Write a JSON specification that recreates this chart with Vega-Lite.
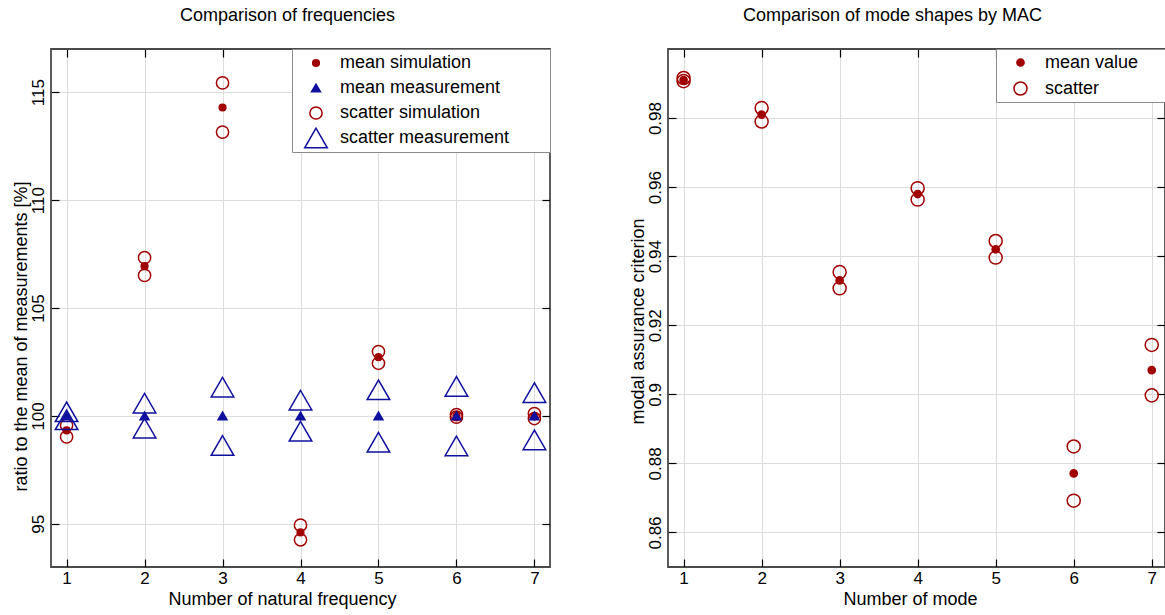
{
  "$schema": "https://vega.github.io/schema/vega-lite/v6.json",
  "background": "white",
  "padding": {"left": 11, "top": 6, "right": 0, "bottom": 0},
  "spacing": 76,
  "resolve": {
    "scale": {"shape": "independent", "size": "independent", "fill": "independent", "stroke": "independent"},
    "legend": {"shape": "independent", "size": "independent", "fill": "independent", "stroke": "independent"}
  },
  "config": {
    "font": "Liberation Sans",
    "view": {"stroke": "#4a4a4a", "strokeWidth": 1.8},
    "axis": {
      "domain": false,
      "gridColor": "#dcdcdc",
      "gridWidth": 1,
      "tickColor": "#000000",
      "tickWidth": 1.2,
      "tickSize": -8,
      "labelFontSize": 17,
      "labelColor": "#000000",
      "labelFont": "Liberation Sans",
      "titleFontSize": 18,
      "titleFontWeight": "normal",
      "titleColor": "#000000",
      "titleFont": "Liberation Sans"
    },
    "legend": {
      "orient": "top-right",
      "offset": 0,
      "padding": 1.5,
      "clipHeight": 25,
      "rowPadding": 0,
      "strokeColor": "#8c8c8c",
      "fillColor": "#ffffff",
      "labelFontSize": 18,
      "labelFont": "Liberation Sans",
      "labelColor": "#000000",
      "labelLimit": 0,
      "symbolStrokeWidth": 1.5
    },
    "title": {"fontSize": 18, "fontWeight": "normal", "font": "Liberation Sans", "color": "#000000"}
  },
  "hconcat": [
    {
      "width": 499,
      "height": 518,
      "title": {"text": "Comparison of frequencies", "dx": -13, "offset": 23.5},
      "data": {
        "values": [
          {"n": 1, "value": 99.57, "series": "scatter simulation"},
          {"n": 1, "value": 99.03, "series": "scatter simulation"},
          {"n": 2, "value": 107.33, "series": "scatter simulation"},
          {"n": 2, "value": 106.51, "series": "scatter simulation"},
          {"n": 3, "value": 115.43, "series": "scatter simulation"},
          {"n": 3, "value": 113.15, "series": "scatter simulation"},
          {"n": 4, "value": 94.94, "series": "scatter simulation"},
          {"n": 4, "value": 94.26, "series": "scatter simulation"},
          {"n": 5, "value": 102.98, "series": "scatter simulation"},
          {"n": 5, "value": 102.44, "series": "scatter simulation"},
          {"n": 6, "value": 100.06, "series": "scatter simulation"},
          {"n": 6, "value": 99.94, "series": "scatter simulation"},
          {"n": 7, "value": 100.11, "series": "scatter simulation"},
          {"n": 7, "value": 99.88, "series": "scatter simulation"},
          {"n": 1, "value": 99.33, "series": "mean simulation"},
          {"n": 2, "value": 106.94, "series": "mean simulation"},
          {"n": 3, "value": 114.29, "series": "mean simulation"},
          {"n": 4, "value": 94.6, "series": "mean simulation"},
          {"n": 5, "value": 102.72, "series": "mean simulation"},
          {"n": 6, "value": 100.02, "series": "mean simulation"},
          {"n": 7, "value": 100.0, "series": "mean simulation"},
          {"n": 1, "value": 100.19, "series": "scatter measurement"},
          {"n": 1, "value": 99.82, "series": "scatter measurement"},
          {"n": 2, "value": 100.59, "series": "scatter measurement"},
          {"n": 2, "value": 99.43, "series": "scatter measurement"},
          {"n": 3, "value": 101.33, "series": "scatter measurement"},
          {"n": 3, "value": 98.63, "series": "scatter measurement"},
          {"n": 4, "value": 100.73, "series": "scatter measurement"},
          {"n": 4, "value": 99.29, "series": "scatter measurement"},
          {"n": 5, "value": 101.21, "series": "scatter measurement"},
          {"n": 5, "value": 98.78, "series": "scatter measurement"},
          {"n": 6, "value": 101.37, "series": "scatter measurement"},
          {"n": 6, "value": 98.61, "series": "scatter measurement"},
          {"n": 7, "value": 101.08, "series": "scatter measurement"},
          {"n": 7, "value": 98.89, "series": "scatter measurement"},
          {"n": 1, "value": 100, "series": "mean measurement"},
          {"n": 2, "value": 100, "series": "mean measurement"},
          {"n": 3, "value": 100, "series": "mean measurement"},
          {"n": 4, "value": 100, "series": "mean measurement"},
          {"n": 5, "value": 100, "series": "mean measurement"},
          {"n": 6, "value": 100, "series": "mean measurement"},
          {"n": 7, "value": 100, "series": "mean measurement"}
        ]
      },
      "layer": [
        {
          "mark": {"type": "point", "strokeWidth": 1.5, "opacity": 1},
          "encoding": {
            "x": {
              "field": "n", "type": "quantitative",
              "scale": {"domain": [0.8, 7.2], "nice": false, "zero": false},
              "axis": {"values": [1, 2, 3, 4, 5, 6, 7], "format": "d", "title": "Number of natural frequency", "labelAngle": 0, "labelPadding": 11, "titlePadding": 4, "titleX": 231}
            },
            "y": {
              "field": "value", "type": "quantitative",
              "scale": {"domain": [93, 117], "nice": false, "zero": false},
              "axis": {"values": [95, 100, 105, 110, 115], "format": "d", "title": "ratio to the mean of measurements [%]", "labelAngle": -90, "labelAlign": "center", "labelBaseline": "bottom", "labelPadding": 12, "titlePadding": -1, "titleY": 287}
            },
            "shape": {
              "field": "series", "type": "nominal",
              "scale": {"domain": ["mean simulation", "mean measurement", "scatter simulation", "scatter measurement"], "range": ["circle", "triangle-up", "circle", "triangle-up"]},
              "legend": {"title": null, "symbolOffset": 10, "labelOffset": 11.5, "labelExpr": "datum.label + '\u2800\u2800\u2800'"}
            },
            "size": {
              "field": "series", "type": "nominal",
              "scale": {"type": "ordinal", "domain": ["mean simulation", "mean measurement", "scatter simulation", "scatter measurement"], "range": [45, 80, 150, 510]},
              "legend": {"title": null, "symbolOffset": 10, "labelOffset": 11.5, "labelExpr": "datum.label + '\u2800\u2800\u2800'"}
            },
            "fill": {
              "field": "series", "type": "nominal",
              "scale": {"domain": ["mean simulation", "mean measurement", "scatter simulation", "scatter measurement"], "range": ["#a00000", "#10109e", "transparent", "transparent"]},
              "legend": {"title": null, "symbolOffset": 10, "labelOffset": 11.5, "labelExpr": "datum.label + '\u2800\u2800\u2800'"}
            },
            "stroke": {
              "field": "series", "type": "nominal",
              "scale": {"domain": ["mean simulation", "mean measurement", "scatter simulation", "scatter measurement"], "range": ["#a00000", "#10109e", "#a00000", "#10109e"]},
              "legend": {"title": null, "symbolOffset": 10, "labelOffset": 11.5, "labelExpr": "datum.label + '\u2800\u2800\u2800'"}
            }
          }
        },
        {
          "mark": {"type": "point", "opacity": 0},
          "encoding": {
            "x": {"field": "n", "type": "quantitative", "axis": {"orient": "top", "values": [1, 2, 3, 4, 5, 6, 7], "labels": false, "grid": false, "title": null}},
            "y": {"field": "value", "type": "quantitative", "axis": {"orient": "right", "values": [95, 100, 105, 110, 115], "labels": false, "grid": false, "title": null}}
          }
        }
      ],
      "resolve": {"axis": {"x": "independent", "y": "independent"}}
    },
    {
      "width": 497,
      "height": 518,
      "title": {"text": "Comparison of mode shapes by MAC", "dx": -24, "offset": 23.5},
      "data": {
        "values": [
          {"n": 1, "value": 0.9916, "series": "scatter"},
          {"n": 1, "value": 0.9907, "series": "scatter"},
          {"n": 2, "value": 0.9829, "series": "scatter"},
          {"n": 2, "value": 0.979, "series": "scatter"},
          {"n": 3, "value": 0.9354, "series": "scatter"},
          {"n": 3, "value": 0.9307, "series": "scatter"},
          {"n": 4, "value": 0.9597, "series": "scatter"},
          {"n": 4, "value": 0.9564, "series": "scatter"},
          {"n": 5, "value": 0.9444, "series": "scatter"},
          {"n": 5, "value": 0.9396, "series": "scatter"},
          {"n": 6, "value": 0.8849, "series": "scatter"},
          {"n": 6, "value": 0.8692, "series": "scatter"},
          {"n": 7, "value": 0.9143, "series": "scatter"},
          {"n": 7, "value": 0.8997, "series": "scatter"},
          {"n": 1, "value": 0.991, "series": "mean value"},
          {"n": 2, "value": 0.981, "series": "mean value"},
          {"n": 3, "value": 0.933, "series": "mean value"},
          {"n": 4, "value": 0.958, "series": "mean value"},
          {"n": 5, "value": 0.942, "series": "mean value"},
          {"n": 6, "value": 0.8771, "series": "mean value"},
          {"n": 7, "value": 0.907, "series": "mean value"}
        ]
      },
      "layer": [
        {
          "mark": {"type": "point", "strokeWidth": 1.5, "opacity": 1, "shape": "circle"},
          "encoding": {
            "x": {
              "field": "n", "type": "quantitative",
              "scale": {"domain": [0.8, 7.17], "nice": false, "zero": false},
              "axis": {"values": [1, 2, 3, 4, 5, 6, 7], "format": "d", "title": "Number of mode", "labelAngle": 0, "labelPadding": 11, "titlePadding": 4, "titleX": 242}
            },
            "y": {
              "field": "value", "type": "quantitative",
              "scale": {"domain": [0.85, 1.0], "nice": false, "zero": false},
              "axis": {"values": [0.86, 0.88, 0.9, 0.92, 0.94, 0.96, 0.98], "format": "~g", "title": "modal assurance criterion", "labelAngle": -90, "labelAlign": "center", "labelBaseline": "bottom", "labelPadding": 12, "titlePadding": -1, "titleY": 272}
            },
            "size": {
              "field": "series", "type": "nominal",
              "scale": {"type": "ordinal", "domain": ["mean value", "scatter"], "range": [52, 170]},
              "legend": {"title": null, "clipHeight": 26, "padding": 0.5, "symbolOffset": 15, "labelOffset": 15.5, "labelExpr": "datum.label + '\u2800\u2800'"}
            },
            "fill": {
              "field": "series", "type": "nominal",
              "scale": {"domain": ["mean value", "scatter"], "range": ["#a00000", "transparent"]},
              "legend": {"title": null, "clipHeight": 26, "padding": 0.5, "symbolOffset": 15, "labelOffset": 15.5, "labelExpr": "datum.label + '\u2800\u2800'"}
            },
            "stroke": {
              "field": "series", "type": "nominal",
              "scale": {"domain": ["mean value", "scatter"], "range": ["#a00000", "#a00000"]},
              "legend": {"title": null, "clipHeight": 26, "padding": 0.5, "symbolOffset": 15, "labelOffset": 15.5, "labelExpr": "datum.label + '\u2800\u2800'"}
            }
          }
        },
        {
          "mark": {"type": "point", "opacity": 0},
          "encoding": {
            "x": {"field": "n", "type": "quantitative", "axis": {"orient": "top", "values": [1, 2, 3, 4, 5, 6, 7], "labels": false, "grid": false, "title": null}},
            "y": {"field": "value", "type": "quantitative", "axis": {"orient": "right", "values": [0.86, 0.88, 0.9, 0.92, 0.94, 0.96, 0.98], "labels": false, "grid": false, "title": null}}
          }
        }
      ],
      "resolve": {"axis": {"x": "independent", "y": "independent"}}
    }
  ]
}
